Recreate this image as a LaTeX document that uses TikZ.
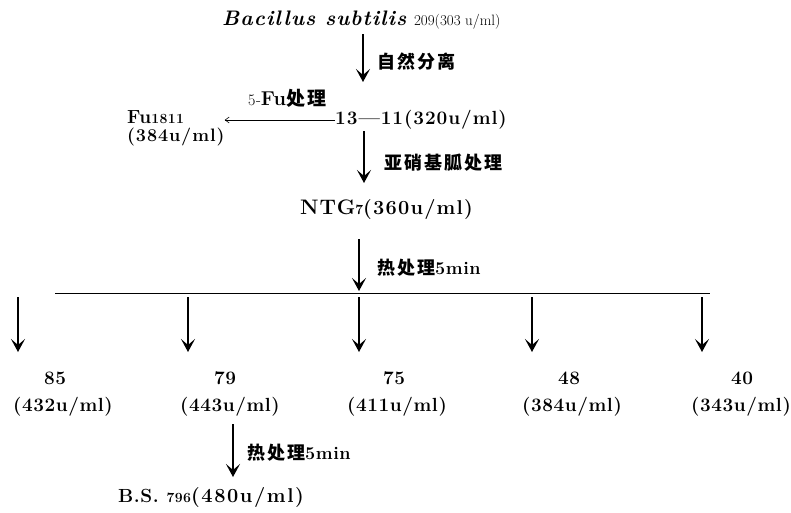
\documentclass[tikz,border=0pt]{standalone}
\usepackage{fontspec}
\setmainfont{Latin Modern Roman}[LetterSpace=3]
\newfontfamily\cjk{Noto Sans CJK SC}[LetterSpace=11]
\usetikzlibrary{arrows.meta}
\begin{document}
\begin{tikzpicture}[x=1pt,y=-1pt,
  txt/.style={inner sep=0pt,font=\bfseries\fontsize{19}{21}\selectfont},
  lab/.style={inner sep=0pt,anchor=west,font=\cjk\bfseries\fontsize{18}{20}\selectfont},
  arr/.style={line width=2.6pt,-{Stealth[length=13pt,width=14pt,inset=6pt]}},
  thinarr/.style={line width=0.6pt,-{Straight Barb[length=4pt,width=6pt]}},
  hline/.style={line width=0.8pt}]
\useasboundingbox (0,0) rectangle (791,512);
% top
\node[txt,anchor=west] (t) at (222,20) {{\itshape\fontsize{21}{23}\selectfont\addfontfeature{LetterSpace=5}Bacillus subtilis} {\mdseries\fontsize{15}{17}\selectfont\addfontfeature{LetterSpace=0}209(303 u/ml)}};
\coordinate (a1s) at (363,34);
\coordinate (a1e) at (363,82);
\draw[arr] (a1s) -- (a1e);
\node[lab] (l1) at (377,62) {自然分离};
% 13-11
\node[txt,anchor=west] (n13) at (335,120) {\addfontfeature{LetterSpace=5}13---11(320u/ml)};
\node[txt,anchor=north west,align=left] (fu) at (127,110) {{\fontsize{19}{21}\selectfont Fu}{\fontsize{14}{16}\selectfont 1811}\\[-3pt]{\fontsize{18}{20}\selectfont\addfontfeature{LetterSpace=5}(384u/ml)}};
\draw[thinarr] (n13.west) -- (230,120 -| fu.east);
\node[txt,anchor=west] (l2) at (248,98) {{\mdseries\fontsize{16}{18}\selectfont 5-}{\fontsize{20}{22}\selectfont Fu}{\cjk\fontsize{19}{21}\selectfont 处理}};
\coordinate (a2s) at (364,131);
\coordinate (a2e) at (364,183);
\draw[arr] (a2s) -- (a2e);
\node[lab] (l3) at (384,163) {亚硝基胍处理};
% NTG
\node[txt,anchor=west] (ntg) at (300,210) {{\fontsize{21}{23}\selectfont\addfontfeature{LetterSpace=4}NTG}{\fontsize{14}{16}\selectfont 7}{\fontsize{20}{22}\selectfont\addfontfeature{LetterSpace=6}(360u/ml)}};
\coordinate (a3s) at (359,239);
\coordinate (a3e) at (359,291);
\draw[arr] (a3s) -- (a3e);
\node[lab] (l4) at (377,268) {热处理{\rmfamily\bfseries\fontsize{18}{20}\selectfont 5min}};
% horizontal line
\coordinate (hl) at (55,293);
\coordinate (hr) at (710,293);
\draw[hline] (hl) -- (hr);
% branches
\foreach \n/\x/\nx/\num/\px/\val in {b1/18/55/85/63/432,b2/188/225/79/230/443,b3/359/394/75/397/411,b4/532/569/48/572/384,b5/702/742/40/741/343}{
  \coordinate (\n s) at (\x,297);
  \coordinate (\n e) at (\x,352);
  \draw[arr] (\n s) -- (\n e);
  \node[txt] (\n n) at (\nx,378) {\num};
  \node[txt] (\n v) at (\px,407) {(\val u/ml)};
}
\coordinate (a4s) at (233,424);
\coordinate (a4e) at (233,477);
\draw[arr] (a4s) -- (a4e);
\node[lab] (l5) at (247,453) {热处理{\rmfamily\bfseries\fontsize{18}{20}\selectfont 5min}};
\node[txt,anchor=west] (bs) at (118,497) {{\fontsize{19}{21}\selectfont B.S.} {\fontsize{14}{16}\selectfont 796}{\fontsize{20}{22}\selectfont\addfontfeature{LetterSpace=8}(480u/ml)}};
\end{tikzpicture}
\end{document}
